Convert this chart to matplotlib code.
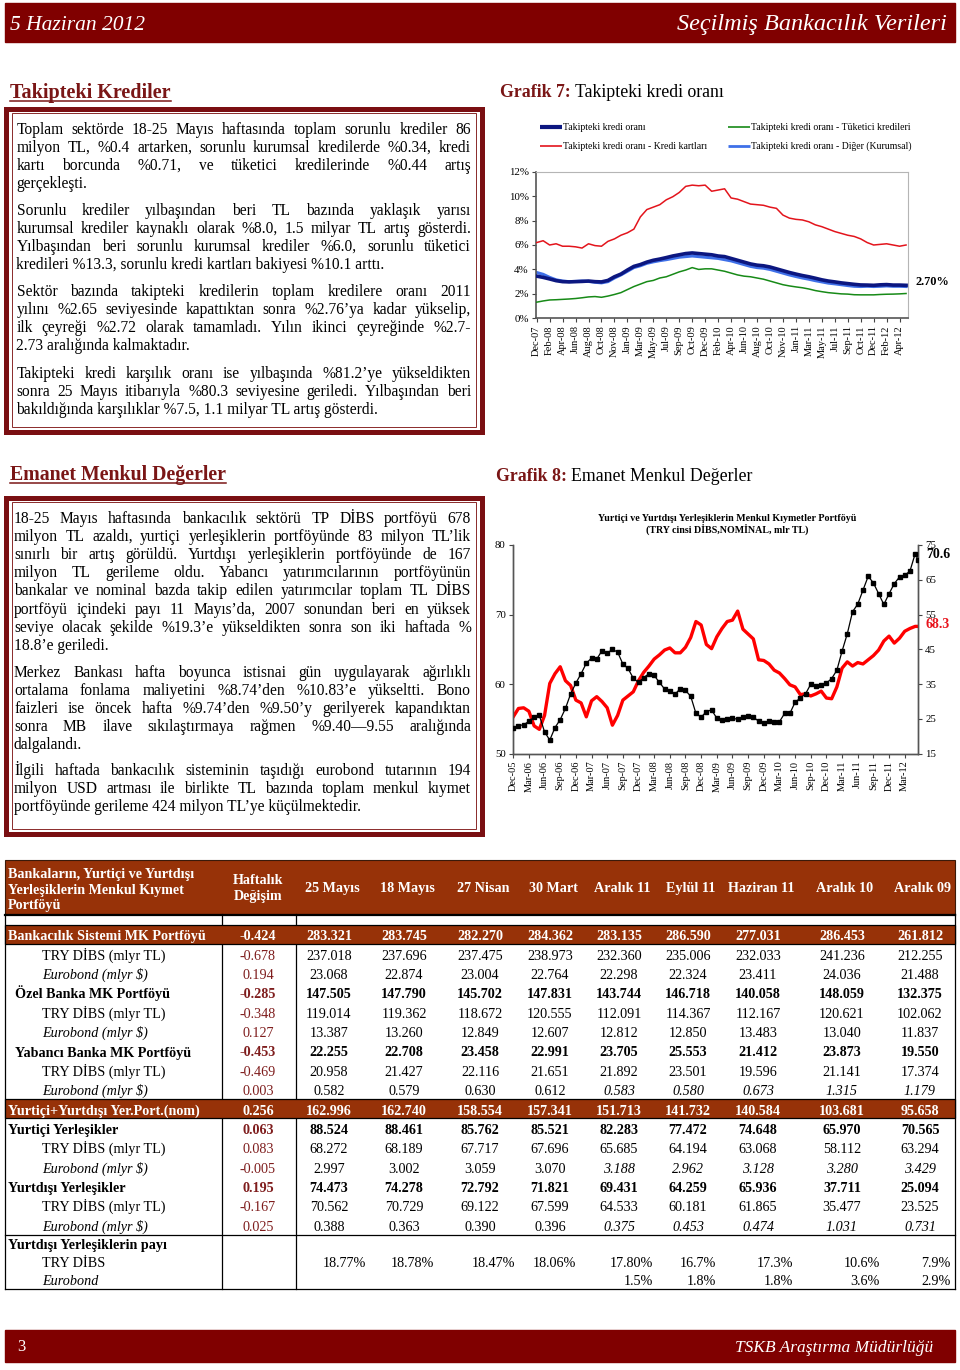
import numpy as np
import matplotlib
matplotlib.use('Agg')
import matplotlib.pyplot as plt
from matplotlib.patches import Rectangle

plt.rcParams['font.family'] = ['Liberation Serif', 'DejaVu Serif']

# ---------------- DATA ----------------
# Grafik 7 : weekly NPL ratios (%), sampled every 4 weeks from Dec-07
g7_tick_labels = ["Dec-07", "Feb-08", "Apr-08", "Jun-08", "Aug-08", "Oct-08", "Nov-08", "Jan-09",
                  "Mar-09", "May-09", "Jul-09", "Sep-09", "Oct-09", "Dec-09", "Feb-10", "Apr-10",
                  "Jun-10", "Aug-10", "Oct-10", "Nov-10", "Jan-11", "Mar-11", "May-11", "Jul-11",
                  "Sep-11", "Oct-11", "Dec-11", "Feb-12", "Apr-12"]
npl_total = [3.45, 3.35, 3.22, 3.08, 3.0, 2.98, 3.0, 3.02, 3.05, 3.0, 2.98, 3.1, 3.4, 3.62, 3.95,
             4.25, 4.4, 4.6, 4.75, 4.85, 4.97, 5.1, 5.2, 5.3, 5.35, 5.3, 5.25, 5.2, 5.1, 5.05,
             4.9, 4.75, 4.6, 4.45, 4.35, 4.3, 4.2, 4.05, 3.9, 3.75, 3.62, 3.5, 3.4, 3.28, 3.15,
             3.05, 2.98, 2.9, 2.84, 2.78, 2.73, 2.72, 2.7, 2.74, 2.76, 2.72, 2.72, 2.7]
npl_cards = [6.2, 6.35, 6.0, 6.1, 5.9, 5.9, 5.85, 5.75, 6.1, 5.95, 5.9, 6.3, 6.5, 6.8, 7.0,
             7.3, 8.3, 8.9, 9.1, 9.3, 9.7, 9.95, 10.3, 10.8, 10.9, 10.85, 10.9, 10.4, 10.5, 10.6,
             9.85, 9.75, 9.55, 9.35, 9.3, 9.25, 9.1, 9.0, 8.45, 8.2, 8.1, 8.05, 7.9, 7.65, 7.5,
             7.3, 7.1, 6.95, 6.8, 6.7, 6.5, 6.2, 6.0, 6.05, 6.1, 6.0, 5.9, 6.0]
npl_consumer = [1.32, 1.42, 1.5, 1.52, 1.55, 1.58, 1.62, 1.68, 1.75, 1.78, 1.72, 1.82, 1.95, 2.1,
                2.35, 2.6, 2.8, 3.0, 3.1, 3.3, 3.4, 3.6, 3.8, 3.95, 4.15, 4.0, 4.05, 4.05, 3.95,
                3.85, 3.7, 3.55, 3.45, 3.4, 3.3, 3.2, 3.05, 2.9, 2.75, 2.65, 2.57, 2.5, 2.4, 2.27,
                2.18, 2.1, 2.05, 2.0, 1.98, 1.93, 1.92, 1.92, 1.92, 1.95, 1.97, 1.98, 2.0, 2.03]
npl_other = [3.75, 3.6, 3.35, 3.15, 3.05, 3.0, 3.02, 3.05, 3.02, 2.95, 2.9, 3.0, 3.3, 3.55, 3.85,
             4.15, 4.3, 4.5, 4.62, 4.72, 4.8, 4.9, 5.0, 5.05, 5.1, 5.05, 5.0, 4.95, 4.9, 4.8,
             4.7, 4.55, 4.4, 4.25, 4.15, 4.1, 4.0, 3.85, 3.7, 3.55, 3.42, 3.3, 3.2, 3.08, 2.98,
             2.88, 2.82, 2.75, 2.68, 2.62, 2.6, 2.62, 2.6, 2.62, 2.65, 2.62, 2.62, 2.6]
g7_series_names = ["Takipteki kredi oranı", "Takipteki kredi oranı - Kredi kartları",
                   "Takipteki kredi oranı - Tüketici kredileri", "Takipteki kredi oranı - Diğer (Kurumsal)"]

# Grafik 8 : monthly samples from Dec-05 (mlr TL)
g8_tick_labels = ["Dec-05", "Mar-06", "Jun-06", "Sep-06", "Dec-06", "Mar-07", "Jun-07", "Sep-07",
                  "Dec-07", "Mar-08", "Jun-08", "Sep-08", "Dec-08", "Mar-09", "Jun-09", "Sep-09",
                  "Dec-09", "Mar-10", "Jun-10", "Sep-10", "Dec-10", "Mar-11", "Jun-11", "Sep-11",
                  "Dec-11", "Mar-12"]
yurtici = [55.3, 56.5, 56.6, 56.1, 54.0, 53.5, 55.5, 60.1, 61.5, 62.5, 60.5, 59.8, 57.7, 57.3,
           55.3, 57.6, 58.2, 57.5, 56.6, 54.1, 55.5, 57.7, 58.3, 58.9, 60.5, 61.7, 62.6, 63.6,
           64.2, 64.9, 65.2, 64.5, 64.5, 65.3, 66.7, 69.0, 68.5, 65.7, 65.1, 66.8, 68.0, 69.0,
           69.2, 70.5, 67.9, 67.2, 66.5, 63.5, 63.4, 62.9, 62.0, 61.6, 60.8, 59.9, 59.6, 58.5,
           58.6, 58.3, 58.6, 59.0, 58.0, 57.9, 59.6, 62.3, 63.2, 62.6, 63.1, 62.9, 63.5, 64.1,
           64.9, 66.2, 66.9, 65.9, 66.6, 67.6, 68.0, 68.3, 68.3]
yurtdisi = [22.3, 23.1, 23.3, 24.3, 25.5, 26.0, 21.3, 18.9, 22.5, 24.8, 28.0, 32.2, 35.3, 38.0,
            41.0, 42.5, 42.2, 44.6, 43.9, 45.0, 44.2, 40.8, 39.5, 36.7, 35.5, 36.9, 38.0, 37.5,
            35.5, 33.6, 32.9, 32.1, 33.7, 33.2, 31.5, 26.6, 25.5, 27.1, 27.6, 25.2, 24.6, 24.9,
            25.2, 24.9, 25.5, 25.8, 25.6, 24.3, 23.9, 24.4, 24.0, 24.2, 26.6, 26.6, 29.8, 31.0,
            32.2, 35.0, 34.4, 34.8, 35.3, 36.6, 39.0, 44.5, 49.5, 55.8, 58.0, 62.0, 66.0, 64.1,
            61.0, 57.9, 61.0, 63.9, 65.8, 66.3, 67.5, 72.5, 70.6]

# Table
table_columns = ["25 Mayıs", "18 Mayıs", "27 Nisan", "30 Mart", "Aralık 11", "Eylül 11",
                 "Haziran 11", "Aralık 10", "Aralık 09"]
row_labels = ["Bankacılık Sistemi MK Portföyü", "TRY DİBS (mlyr TL)", "Eurobond (mlyr $)",
              "Özel Banka MK Portföyü", "TRY DİBS (mlyr TL)", "Eurobond (mlyr $)",
              "Yabancı Banka MK Portföyü", "TRY DİBS (mlyr TL)", "Eurobond (mlyr $)",
              "Yurtiçi+Yurtdışı Yer.Port.(nom)", "Yurtiçi Yerleşikler", "TRY DİBS (mlyr TL)",
              "Eurobond (mlyr $)", "Yurtdışı Yerleşikler", "TRY DİBS (mlyr TL)", "Eurobond (mlyr $)"]
row_styles = ['band', 'sub', 'euro', 'bold1', 'sub', 'euro', 'bold1', 'sub', 'euro_i',
              'band', 'bold0', 'sub', 'euro_i', 'bold0', 'sub', 'euro_i']
weekly_change = [-0.424, -0.678, 0.194, -0.285, -0.348, 0.127, -0.453, -0.469, 0.003,
                 0.256, 0.063, 0.083, -0.005, 0.195, -0.167, 0.025]
bank_total = [283.321, 283.745, 282.270, 284.362, 283.135, 286.590, 277.031, 286.453, 261.812]
bank_dibs = [237.018, 237.696, 237.475, 238.973, 232.360, 235.006, 232.033, 241.236, 212.255]
bank_euro = [23.068, 22.874, 23.004, 22.764, 22.298, 22.324, 23.411, 24.036, 21.488]
ozel_total = [147.505, 147.790, 145.702, 147.831, 143.744, 146.718, 140.058, 148.059, 132.375]
ozel_dibs = [119.014, 119.362, 118.672, 120.555, 112.091, 114.367, 112.167, 120.621, 102.062]
ozel_euro = [13.387, 13.260, 12.849, 12.607, 12.812, 12.850, 13.483, 13.040, 11.837]
yab_total = [22.255, 22.708, 23.458, 22.991, 23.705, 25.553, 21.412, 23.873, 19.550]
yab_dibs = [20.958, 21.427, 22.116, 21.651, 21.892, 23.501, 19.596, 21.141, 17.374]
yab_euro = [0.582, 0.579, 0.630, 0.612, 0.583, 0.580, 0.673, 1.315, 1.179]
yer_total = [162.996, 162.740, 158.554, 157.341, 151.713, 141.732, 140.584, 103.681, 95.658]
yurtici_total = [88.524, 88.461, 85.762, 85.521, 82.283, 77.472, 74.648, 65.970, 70.565]
yurtici_dibs = [68.272, 68.189, 67.717, 67.696, 65.685, 64.194, 63.068, 58.112, 63.294]
yurtici_euro = [2.997, 3.002, 3.059, 3.070, 3.188, 2.962, 3.128, 3.280, 3.429]
yurtdisi_total = [74.473, 74.278, 72.792, 71.821, 69.431, 64.259, 65.936, 37.711, 25.094]
yurtdisi_dibs = [70.562, 70.729, 69.122, 67.599, 64.533, 60.181, 61.865, 35.477, 23.525]
yurtdisi_euro = [0.388, 0.363, 0.390, 0.396, 0.375, 0.453, 0.474, 1.031, 0.731]
share_dibs = ["18.77%", "18.78%", "18.47%", "18.06%", "17.80%", "16.7%", "17.3%", "10.6%", "7.9%"]
share_euro = ["", "", "", "", "1.5%", "1.8%", "1.8%", "3.6%", "2.9%"]

# Texts
box1_paragraphs = [
    ["Toplam sektörde 18-25 Mayıs haftasında toplam sorunlu krediler 86",
     "milyon TL, %0.4 artarken, sorunlu kurumsal kredilerde %0.34, kredi",
     "kartı borcunda %0.71, ve tüketici kredilerinde %0.44 artış",
     "gerçekleşti."],
    ["Sorunlu krediler yılbaşından beri TL bazında yaklaşık yarısı",
     "kurumsal krediler kaynaklı olarak %8.0, 1.5 milyar TL artış gösterdi.",
     "Yılbaşından beri sorunlu kurumsal krediler %6.0, sorunlu tüketici",
     "kredileri %13.3, sorunlu kredi kartları bakiyesi %10.1 arttı."],
    ["Sektör bazında takipteki kredilerin toplam kredilere oranı 2011",
     "yılını %2.65 seviyesinde kapattıktan sonra %2.76’ya kadar yükselip,",
     "ilk çeyreği %2.72 olarak tamamladı. Yılın ikinci çeyreğinde %2.7-",
     "2.73 aralığında kalmaktadır."],
    ["Takipteki kredi karşılık oranı ise yılbaşında %81.2’ye yükseldikten",
     "sonra 25 Mayıs itibarıyla %80.3 seviyesine geriledi. Yılbaşından beri",
     "bakıldığında karşılıklar %7.5, 1.1 milyar TL artış gösterdi."],
]
box2_paragraphs = [
    ["18-25 Mayıs haftasında bankacılık sektörü TP DİBS portföyü 678",
     "milyon TL azaldı, yurtiçi yerleşiklerin portföyünde 83 milyon TL’lik",
     "sınırlı bir artış görüldü. Yurtdışı yerleşiklerin portföyünde de 167",
     "milyon TL gerileme oldu. Yabancı yatırımcılarının portföyünün",
     "bankalar ve nominal bazda takip edilen yatırımcılar toplam TL DİBS",
     "portföyü içindeki payı 11 Mayıs’da, 2007 sonundan beri en yüksek",
     "seviye olacak şekilde %19.3’e yükseldikten sonra son iki haftada %",
     "18.8’e geriledi."],
    ["Merkez Bankası hafta boyunca istisnai gün uygulayarak ağırlıklı",
     "ortalama fonlama maliyetini %8.74’den %10.83’e yükseltti. Bono",
     "faizleri ise öncek hafta %9.74’den %9.50’y gerilyerek kapandıktan",
     "sonra MB ilave sıkılaştırmaya rağmen %9.40—9.55 aralığında",
     "dalgalandı."],
    ["İlgili haftada bankacılık sisteminin taşıdığı eurobond tutarının 194",
     "milyon USD artması ile birlikte TL bazında toplam menkul kıymet",
     "portföyünde gerileme 424 milyon TL’ye küçülmektedir."],
]

# ---------------- FIGURE ----------------
W, H = 960, 1370
fig = plt.figure(figsize=(W / 100, H / 100), dpi=100)
bg = fig.add_axes([0, 0, 1, 1])
bg.set_xlim(0, W)
bg.set_ylim(H, 0)
bg.axis('off')
renderer = fig.canvas.get_renderer()

DARK = '#800000'
TITLE = '#7a1616'
BROWN = '#973208'
MAROON = '#7f1d1d'


def rect_px(l, t, r, b):
    return [l / W, 1 - b / H, (r - l) / W, (b - t) / H]


def text_width(s, fs, **kw):
    t = bg.text(0, 0, s, fontsize=fs, **kw)
    w = t.get_window_extent(renderer).width
    t.remove()
    return w


def put_line(x0, x1, yb, line, fs, justify):
    words = line.split()
    ws = [text_width(w, fs) for w in words]
    sp = text_width("a a", fs) - text_width("aa", fs)
    natural = sum(ws) + sp * 0.75 * (len(words) - 1)
    if natural > x1 - x0:
        fs = fs * (x1 - x0) / natural * 0.995
        ws = [text_width(w, fs) for w in words]
    if not justify:
        bg.text(x0, yb, line, fontsize=fs, va='baseline', ha='left', color='black')
        return
    gap = (x1 - x0 - sum(ws)) / (len(words) - 1)
    x = x0
    for w, wd in zip(words, ws):
        bg.text(x, yb, w, fontsize=fs, va='baseline', ha='left', color='black')
        x += wd + gap


def put_paragraphs(paras, x0, x1, starts, step, fs):
    for p, y0 in zip(paras, starts):
        for i, line in enumerate(p):
            put_line(x0, x1, y0 + i * step + 4.8, line, fs, i < len(p) - 1)


def frame_box(top, bottom):
    bg.add_patch(Rectangle((5.8, top), 475.7, bottom - top, fill=False, ec='#7a0f12', lw=3.6,
                           zorder=2))
    bg.add_patch(Rectangle((11.7, top + 4.8), 464.3, bottom - top - 9.6, fill=False,
                           ec='#8a2a2a', lw=0.7, zorder=2))


def heading(x, y, s, fs):
    t = bg.text(x, y, s, fontsize=fs, fontweight='bold', color=TITLE, va='baseline')
    bb = t.get_window_extent(renderer)
    bg.plot([bb.x0, bb.x1], [y + 3, y + 3], color=TITLE, lw=1.1)


def grafik_title(x, y, bold, rest, fs):
    bg.text(x, y, bold, fontsize=fs, fontweight='bold', color=TITLE, va='baseline')
    w = text_width(bold, fs, fontweight='bold')
    bg.text(x + w + 4, y, rest, fontsize=fs, color='black', va='baseline')


# Header / footer bars
bg.add_patch(Rectangle((5, 3), 950, 39, color=DARK, zorder=1))
bg.text(10, 30, "5 Haziran 2012", fontsize=15.5, style='italic', color='white', va='baseline')
bg.text(947, 30, "Seçilmiş Bankacılık Verileri", fontsize=17.5, style='italic', color='white',
        va='baseline', ha='right')
bg.add_patch(Rectangle((5, 1330), 950, 32, color=DARK, zorder=1))
bg.text(17, 1351, "3", fontsize=12, color='white', va='baseline')
bg.text(933, 1352, "TSKB Araştırma Müdürlüğü", fontsize=12.5, style='italic', color='white',
        va='baseline', ha='right')

# Left text boxes
heading(10, 98, "Takipteki Krediler", 14.5)
frame_box(108.5, 432)
put_paragraphs(box1_paragraphs, 16.5, 471, [129.3, 210, 290.7, 372.7], 18.0, 11.2)

heading(10, 480, "Emanet Menkul Değerler", 14.3)
frame_box(497.5, 834)
put_paragraphs(box2_paragraphs, 14, 471, [517.7, 671.7, 770], 18.2, 11.2)

# ---------------- Grafik 7 ----------------
grafik_title(500, 97, "Grafik 7:", "Takipteki kredi oranı", 12.8)
weeks7 = np.arange(0, 4 * len(npl_total), 4)
ax7 = fig.add_axes(rect_px(535.7, 171.7, 908, 318.3))
ax7.plot(weeks7, npl_other, color='#3f70e8', lw=2.2, zorder=2)
ax7.plot(weeks7, npl_total, color='#0c1780', lw=2.6, zorder=3)
ax7.plot(weeks7, npl_cards, color='#e3141c', lw=1.1, zorder=4)
ax7.plot(weeks7, npl_consumer, color='#178a17', lw=1.1, zorder=4)
ax7.set_xlim(-0.6, 229.2)
ax7.set_ylim(0, 12)
ax7.set_yticks(np.arange(0, 13, 2))
ax7.set_yticklabels([f"{v}%" for v in range(0, 13, 2)], fontsize=7.8)
ax7.set_xticks(np.arange(0, 8 * len(g7_tick_labels), 8))
ax7.set_xticklabels(g7_tick_labels, rotation=90, fontsize=7.5)
ax7.tick_params(axis='both', direction='out', length=3, width=0.8, colors='#444444', pad=2)
ax7.tick_params(axis='both', labelcolor='black')
for s in ('left', 'bottom'):
    ax7.spines[s].set_color('#555555')
    ax7.spines[s].set_linewidth(1.2)
for s in ('top', 'right'):
    ax7.spines[s].set_color('#b5b5b5')
    ax7.spines[s].set_linewidth(0.8)
bg.text(915, 285, "2.70%", fontsize=8.8, fontweight='bold', va='baseline')

# legend for Grafik 7
leg7 = [(540, 562, 127, '#0c1780', 3.0, g7_series_names[0]),
        (540, 562, 146, '#e3141c', 1.2, g7_series_names[1]),
        (728, 750, 127, '#178a17', 1.2, g7_series_names[2]),
        (728, 750, 146, '#3f70e8', 2.0, g7_series_names[3])]
for x0, x1, y, c, lw, name in leg7:
    bg.plot([x0, x1], [y, y], color=c, lw=lw, solid_capstyle='butt')
    bg.text(x1 + 1, y + 2.5, name, fontsize=7, va='baseline')

# ---------------- Grafik 8 ----------------
grafik_title(496, 481, "Grafik 8:", "Emanet Menkul Değerler", 12.8)
months8 = np.append(np.arange(len(yurtici) - 1), 77.6)
ax8 = fig.add_axes(rect_px(512.7, 545, 918.3, 753.7))
ax8r = ax8.twinx()
ax8.plot(months8, yurtici, color='#ff0000', lw=2.4, zorder=3)
ax8r.plot(months8, yurtdisi, color='black', lw=0.9, marker='s', ms=2.8, zorder=3)
ax8.set_xlim(-0.1, 77.6)
ax8.set_ylim(50, 80)
ax8r.set_ylim(15, 75)
ax8.set_yticks([50, 60, 70, 80])
ax8r.set_yticks(np.arange(15, 76, 10))
ax8.set_xticks(np.arange(0, 3 * len(g8_tick_labels), 3))
ax8.set_xticklabels(g8_tick_labels, rotation=90, fontsize=7.5)
for a in (ax8, ax8r):
    a.tick_params(axis='both', direction='out', length=3, width=0.8, colors='#444444',
                  labelcolor='black', labelsize=7.8, pad=2)
    a.spines['top'].set_visible(False)
    for s in ('left', 'right', 'bottom'):
        a.spines[s].set_color('#555555')
        a.spines[s].set_linewidth(1.0)
ax8.tick_params(axis='x', labelsize=7.5)
bg.text(926, 558, f"{yurtdisi[-1]:.1f}", fontsize=10, fontweight='bold', color='black',
        va='baseline')
bg.text(926, 628, f"{yurtici[-1]:.1f}", fontsize=10, fontweight='bold', color='#e8141c',
        va='baseline')
bg.text(727, 521, "Yurtiçi ve Yurtdışı Yerleşiklerin Menkul Kıymetler Portföyü", fontsize=7.2,
        fontweight='bold', ha='center', va='baseline')
bg.text(727, 533, "(TRY cinsi DİBS,NOMİNAL, mlr TL)", fontsize=7.2, fontweight='bold',
        ha='center', va='baseline')
bg.plot([550, 570], [572, 572], color='#ff0000', lw=2.6, solid_capstyle='butt')
bg.text(571, 575, "Yurtiçi Yerleşik", fontsize=7.6, va='baseline')
bg.plot([645, 665], [572, 572], color='black', lw=0.9)
bg.plot([657], [572], marker='s', ms=2.8, color='black')
bg.text(667, 575, "Yurtdışı Yerleşik  (sağ eksen)", fontsize=7.6, va='baseline')

# ---------------- TABLE ----------------
TL, TR = 5, 954.5
row_y0, row_step = 936, 19.35
col_x = [329, 404, 480, 550, 619, 688, 758, 842, 920]
wk_x = 258
fs_t = 10.2
base = 4.4

bg.add_patch(Rectangle((TL, 860), TR - TL, 54, fc=BROWN, ec='#3a1a0a', lw=0.8, zorder=2))
for i, s in enumerate(["Bankaların, Yurtiçi ve Yurtdışı", "Yerleşiklerin Menkul Kıymet",
                       "Portföyü"]):
    bg.text(8, 874 + i * 15.3 + base, s, fontsize=fs_t, fontweight='bold', color='white',
            va='baseline', zorder=3)
bg.text(wk_x, 880 + base, "Haftalık", fontsize=fs_t, fontweight='bold', color='white',
        ha='center', va='baseline', zorder=3)
bg.text(wk_x, 896 + base, "Değişim", fontsize=fs_t, fontweight='bold', color='white',
        ha='center', va='baseline', zorder=3)
for x, c in zip(col_x, table_columns):
    bg.text(x + 3, 888 + base, c, fontsize=fs_t, fontweight='bold', color='white', ha='center',
            va='baseline', zorder=3)

# grid lines
bg.plot([TL, TR], [914.5, 914.5], color='black', lw=1.6, zorder=3)
for x in (TL, 222, 296, TR):
    bg.plot([x, x], [914, 1289], color='black', lw=0.9, zorder=2)
bg.plot([TL, TR], [1289, 1289], color='black', lw=0.9, zorder=2)
bg.plot([TL, TR], [1235, 1235], color='black', lw=0.9, zorder=2)

table_values = [bank_total, bank_dibs, bank_euro, ozel_total, ozel_dibs, ozel_euro,
                yab_total, yab_dibs, yab_euro, yer_total, yurtici_total, yurtici_dibs,
                yurtici_euro, yurtdisi_total, yurtdisi_dibs, yurtdisi_euro]
label_x = {'band': 8, 'sub': 42, 'euro': 42, 'euro_i': 42, 'bold1': 15, 'bold0': 8}
for i, (lab, st, wk, vals) in enumerate(zip(row_labels, row_styles, weekly_change,
                                               table_values)):
    yc = row_y0 + i * row_step
    yb = yc + base
    band = st == 'band'
    bold = st in ('band', 'bold1', 'bold0')
    if band:
        bg.add_patch(Rectangle((TL, yc - 11.5), TR - TL, 19.5, fc=BROWN, ec='black', lw=0.9,
                               zorder=3))
    col = 'white' if band else 'black'
    fw = 'bold' if bold else 'normal'
    lab_style = 'italic' if st.startswith('euro') else 'normal'
    bg.text(label_x[st], yb, lab, fontsize=fs_t, fontweight=fw, style=lab_style, color=col,
            va='baseline', zorder=4)
    bg.text(wk_x, yb, f"{wk:.3f}", fontsize=fs_t, fontweight=fw,
            color='white' if band else MAROON, ha='center', va='baseline', zorder=4)
    for j, (x, v) in enumerate(zip(col_x, vals)):
        vs = 'italic' if (st == 'euro_i' and j >= 4) else 'normal'
        bg.text(x, yb, f"{v:.3f}", fontsize=fs_t, fontweight=fw, style=vs, color=col,
                ha='center', va='baseline', zorder=4)

# share section
bg.text(8, 1245 + base, "Yurtdışı Yerleşiklerin payı", fontsize=fs_t, fontweight='bold',
        va='baseline')
bg.text(42, 1263 + base, "TRY DİBS", fontsize=fs_t, va='baseline')
bg.text(42, 1281 + base, "Eurobond", fontsize=fs_t, style='italic', va='baseline')
share_right = [366, 434, 515, 576, 653, 716, 793, 880, 951]
for x, a, b in zip(share_right, share_dibs, share_euro):
    bg.text(x, 1263 + base, a, fontsize=fs_t, ha='right', va='baseline')
    if b:
        bg.text(x, 1281 + base, b, fontsize=fs_t, ha='right', va='baseline')

fig.savefig('out.png', dpi=100)
